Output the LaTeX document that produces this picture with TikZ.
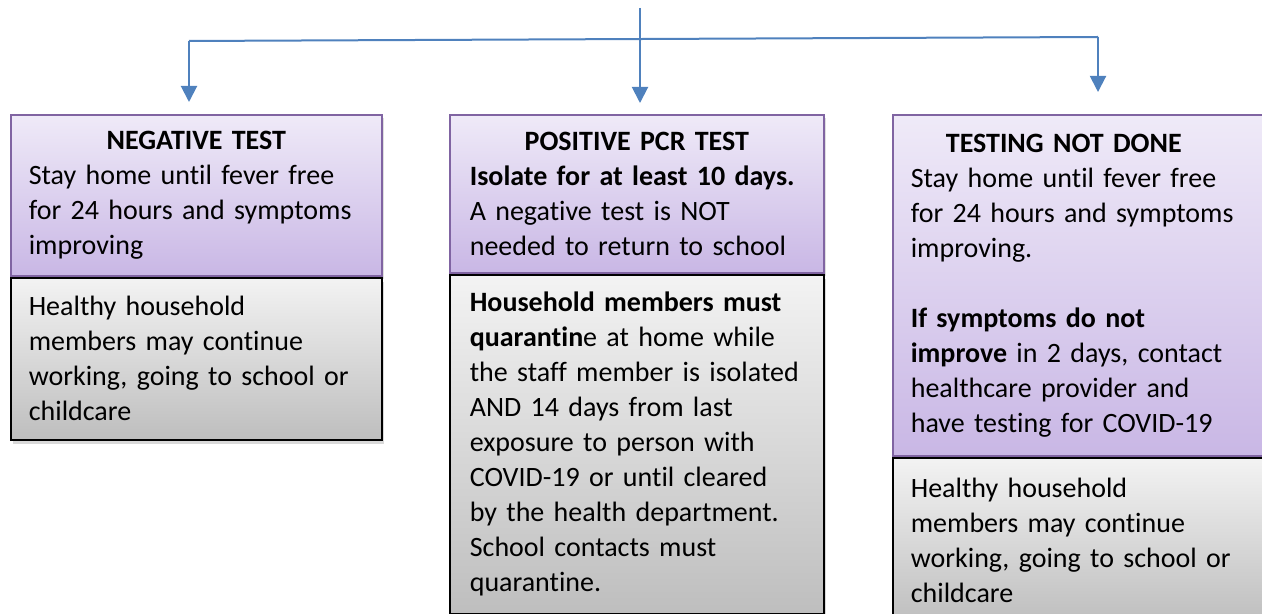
\documentclass[tikz,border=0pt]{standalone}
\usepackage{fontspec}
\setmainfont{Carlito}[RawFeature={-liga;-clig;-calt}]
\usetikzlibrary{positioning,arrows.meta,shadows}
\definecolor{flowblue}{RGB}{79,129,189}
\definecolor{lavtop}{RGB}{239,234,248}
\definecolor{lavbot}{RGB}{201,183,229}
\definecolor{lavline}{RGB}{128,100,162}
\definecolor{greytop}{RGB}{243,243,243}
\definecolor{greybot}{RGB}{190,190,190}
\tikzset{
  head/.style={draw=lavline, line width=0.8pt, top color=lavtop, bottom color=lavbot, align=left, inner xsep=9pt, inner ysep=0pt, font=\fontsize{14}{17.5}\selectfont, drop shadow={opacity=0.25, shadow xshift=1pt, shadow yshift=-1.5pt}},
  note/.style={draw=black, line width=1pt, top color=greytop, bottom color=greybot, align=left, inner xsep=9pt, inner ysep=0pt, font=\fontsize{14}{17.5}\selectfont, drop shadow={opacity=0.3, shadow xshift=1pt, shadow yshift=-2pt}},
  flowline/.style={line width=1pt, flowblue},
  arrow/.style={-{Triangle[length=8pt, width=8pt]}, line width=1pt, flowblue}
}
\newcommand{\boxtitle}[2]{\makebox[#1][c]{\bfseries #2}}

\begin{document}
\begin{tikzpicture}[x=0.5pt, y=-0.5pt]
    \useasboundingbox (0,0) rectangle (1262,614);
    % left column
    \node[head, anchor=north west, text width=167.5pt, minimum width=185.5pt, minimum height=80.5pt] (neg) at (10,114)
      {\boxtitle{167.5pt}{NEGATIVE TEST}\\Stay home until fever free\\for 24 hours and symptoms\\improving};
    \node[note, text width=167.5pt, minimum width=185.5pt, minimum height=81pt, below=0pt of neg] (negh)
      {Healthy household\\members may continue\\working, going to school or\\childcare};
    % middle column
    \node[head, anchor=north west, inner xsep=10pt, text width=167pt, minimum width=187pt, minimum height=79pt] (pos) at (449,114)
      {\boxtitle{167pt}{POSITIVE PCR TEST}\\\textbf{Isolate for at least 10 days.}\\A negative test is NOT\\needed to return to school};
    \node[note, inner xsep=10pt, text width=167pt, minimum width=187pt, minimum height=169.5pt, below=0pt of pos] (posh)
      {\textbf{Household members must}\\\textbf{quarantin}e at home while\\the staff member is isolated\\AND 14 days from last\\exposure to person with\\COVID-19 or until cleared\\\mbox{by the health department.}\\School contacts must\\quarantine.};
    % right column (runs past the page edge)
    \node[head, anchor=north west, text width=182pt, minimum width=200pt, minimum height=170.5pt] (nd) at (892,114)
      {\boxtitle{153pt}{TESTING NOT DONE}\\Stay home until fever free\\for 24 hours and symptoms\\improving.\\[17.5pt]\textbf{If symptoms do not}\\\textbf{improve} in 2 days, contact\\healthcare provider and\\have testing for COVID-19};
    \node[note, text width=182pt, minimum width=200pt, minimum height=83pt, below=0pt of nd] (ndh)
      {Healthy household\\members may continue\\working, going to school or\\childcare};
    % connectors
    \coordinate (src) at (640,8);
    \coordinate (jl) at (189,41);
    \coordinate (jm) at (640,39.5);
    \coordinate (jr) at (1098,37);
    \draw[flowline] (src) -- (jm);
    \draw[flowline] (jl) -- (jr);
    \draw[arrow, shorten >=6pt] (jl) -- (jl |- neg.north);
    \draw[arrow, shorten >=5.5pt] (jm) -- (jm |- pos.north);
    \draw[arrow, shorten >=11pt] (jr) -- (jr |- nd.north);
  \end{tikzpicture}
\end{document}
